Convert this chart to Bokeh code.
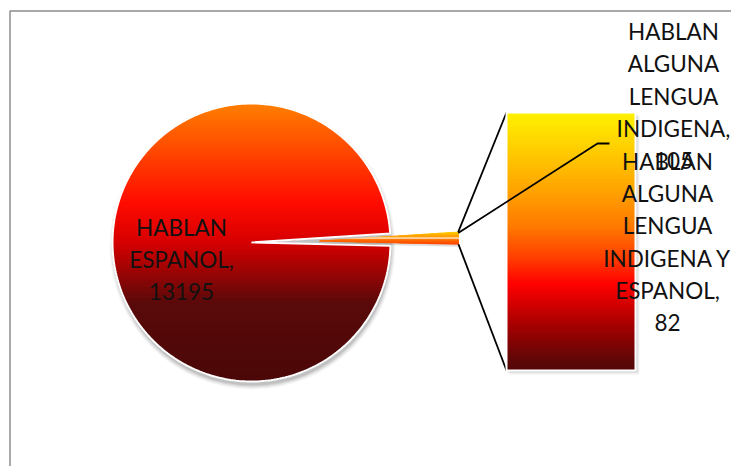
import numpy as np
import textwrap
from bokeh.plotting import figure
from bokeh.models import Range1d
from bokeh.embed import file_html
from bokeh.resources import INLINE
from bokeh.core.properties import value

# ---------------- data ----------------
categories = ["HABLAN ESPANOL",
              "HABLAN ALGUNA LENGUA INDIGENA",
              "HABLAN ALGUNA LENGUA INDIGENA Y ESPANOL"]
values = [13195, 105, 82]
pie_items = [0]          # shown in the main pie
bar_items = [1, 2]       # split out into the secondary bar (top to bottom)
wrap_widths = [8, 9, 10]

# ---------------- layout / style ----------------
W, H = 731, 466
CX, CY, R = 251, 242, 139
ROT_DEG = 1.2            # pie rotation (other-slice bisector angle)
EXPLODE = 68
BAR_L, BAR_R, BAR_T, BAR_B = 506, 635, 112, 370
FONT = "Lato"
FSIZE = 22.5
LINE_SP = 32.3
label_centers = [(181, 259), (673, 95.5), (667, 241.5)]
LEADER_KNEE = (597, 143)
LEADER_HOOK = 12

pie_stops = [(0.0, (255, 128, 0)), (0.18, (255, 70, 0)), (0.36, (255, 12, 0)),
             (0.50, (215, 0, 0)), (0.62, (150, 5, 5)), (0.72, (90, 10, 10)),
             (1.0, (75, 8, 8))]
bar_stops = [(0.0, (255, 242, 0)), (0.15, (255, 205, 0)), (0.30, (255, 165, 0)),
             (0.45, (255, 120, 0)), (0.57, (255, 60, 0)), (0.67, (255, 0, 0)),
             (0.81, (175, 0, 0)), (0.97, (92, 8, 8)), (1.0, (85, 8, 8))]
slice_stops = [(0.0, (255, 215, 0)), (0.45, (255, 150, 0)), (0.55, (255, 255, 255)),
               (0.65, (255, 120, 0)), (1.0, (255, 70, 0))]


def interp(stops, t):
    t = min(max(t, 0.0), 1.0)
    for (t0, c0), (t1, c1) in zip(stops[:-1], stops[1:]):
        if t <= t1:
            f = 0 if t1 == t0 else (t - t0) / (t1 - t0)
            c = [int(round(a + (b - a) * f)) for a, b in zip(c0, c1)]
            return "#%02x%02x%02x" % tuple(c)
    return "#%02x%02x%02x" % stops[-1][1]


def clip(xs, ys, lim, keep_ge):
    ox, oy = [], []
    n = len(xs)
    for i in range(n):
        x1, y1 = xs[i], ys[i]
        x2, y2 = xs[(i + 1) % n], ys[(i + 1) % n]
        in1 = (y1 >= lim) if keep_ge else (y1 <= lim)
        in2 = (y2 >= lim) if keep_ge else (y2 <= lim)
        if in1:
            ox.append(x1); oy.append(y1)
        if in1 != in2:
            f = (lim - y1) / (y2 - y1)
            ox.append(x1 + (x2 - x1) * f); oy.append(lim)
    return ox, oy


def gradient(xs, ys, top, bot, stops, n=90):
    edges = np.linspace(top, bot, n + 1)
    gx, gy, gc = [], [], []
    for i in range(n):
        a, b = edges[i] - 0.35, edges[i + 1] + 0.35
        px, py = clip(list(xs), list(ys), a, True)
        if len(px) < 3:
            continue
        px, py = clip(px, py, b, False)
        if len(px) < 3:
            continue
        t = ((edges[i] + edges[i + 1]) / 2 - top) / (bot - top)
        gx.append(px); gy.append(py); gc.append(interp(stops, t))
    return dict(xs=gx, ys=gy, color=gc)


def wedge(cx, cy, r, a0, a1, npts=300):
    th = np.linspace(a0, a1, npts)
    xs = np.concatenate([[cx], cx + r * np.cos(th)])
    ys = np.concatenate([[cy], cy - r * np.sin(th)])
    return xs, ys


p = figure(width=W, height=H, x_range=Range1d(0, W), y_range=Range1d(H, 0),
           output_backend="svg", toolbar_location=None, min_border=0,
           x_axis_location=None, y_axis_location=None)
p.grid.visible = False
p.outline_line_color = None
p.background_fill_color = "white"
p.border_fill_color = "white"

# chart frame
p.line([9.5, 9.5, W], [H, 10.5, 10.5], line_color="#8c8c8c", line_width=1.5)

total = float(sum(values))
other = float(sum(values[i] for i in bar_items))
other_ang = 2 * np.pi * other / total
rot = np.deg2rad(ROT_DEG)

# pie shadow
for dr, a in [(4, 0.04), (3, 0.05), (2, 0.07), (1, 0.09), (0, 0.12)]:
    p.circle([CX + 1], [CY + 4], radius=R + dr, fill_color="#404040", fill_alpha=a, line_color=None)

# main pie slice(s)
start = rot + other_ang / 2
for i in pie_items:
    ang = 2 * np.pi * values[i] / total
    xs, ys = wedge(CX, CY, R, start, start + ang)
    src = gradient(xs, ys, CY - R, CY + R, pie_stops, n=110)
    p.patches("xs", "ys", source=src, fill_color="color", line_color="color", line_width=1)
    p.patch(xs, ys, fill_color=None, line_color="white", line_width=2)
    start += ang

# exploded "other" slice
ex = CX + EXPLODE * np.cos(rot)
ey = CY - EXPLODE * np.sin(rot)
sxs, sys_ = wedge(ex, ey, R, rot - other_ang / 2, rot + other_ang / 2, npts=20)
p.patch(sxs, np.array(sys_) + 2.5, fill_color="#808080", fill_alpha=0.25, line_color=None)
ssrc = gradient(sxs, sys_, min(sys_), max(sys_), slice_stops, n=24)
p.patches("xs", "ys", source=ssrc, fill_color="color", line_color="color", line_width=0.5)

tip_top = (sxs[-1], sys_[-1])
tip_bot = (sxs[1], sys_[1])

# connector lines
p.line([tip_top[0], BAR_L], [tip_top[1], BAR_T], line_color="black", line_width=1.8)
p.line([tip_bot[0], BAR_L], [tip_bot[1], BAR_B], line_color="black", line_width=1.8)

# bar shadow
for d, a in [(4, 0.05), (3, 0.07), (2, 0.09), (1, 0.12)]:
    p.quad(left=[BAR_L + d - 1], right=[BAR_R + d], top=[BAR_T + d], bottom=[BAR_B + d],
           fill_color="#404040", fill_alpha=a, line_color=None)

# secondary bar segments (gradient spans the whole bar)
scale = (BAR_B - BAR_T) / other
y = BAR_T
for i in bar_items:
    y2 = y + values[i] * scale
    bx = [BAR_L, BAR_R, BAR_R, BAR_L]
    by = [y, y, y2, y2]
    nb = int(round((y2 - y) / 2.0)) + 1
    edges_src = gradient(bx, by, y, y2, [(0, (0, 0, 0)), (1, (0, 0, 0))], n=nb)
    cols = []
    for py in edges_src["ys"]:
        t = ((min(py) + max(py)) / 2 - BAR_T) / (BAR_B - BAR_T)
        cols.append(interp(bar_stops, t))
    edges_src["color"] = cols
    p.patches("xs", "ys", source=edges_src, fill_color="color", line_color="color", line_width=0.8)
    y = y2
p.quad(left=[BAR_L], right=[BAR_R], top=[BAR_T], bottom=[BAR_B],
       fill_color=None, line_color="white", line_width=2)

# leader line for first bar label
p.line([tip_top[0], LEADER_KNEE[0], LEADER_KNEE[0] + LEADER_HOOK],
       [tip_top[1] + 1, LEADER_KNEE[1], LEADER_KNEE[1]], line_color="black", line_width=1.8)

# labels
tx, ty, tt = [], [], []
for i, (lx, ly) in enumerate(label_centers):
    lines = textwrap.wrap(f"{categories[i]}, {values[i]}", wrap_widths[i])
    n = len(lines)
    for k, s in enumerate(lines):
        tx.append(lx); ty.append(ly + (k - (n - 1) / 2) * LINE_SP); tt.append(s)
p.text(tx, ty, text=tt, text_font=value(FONT), text_font_size=f"{FSIZE}px",
       text_align="center", text_baseline="middle", text_color="#111111")

open("out.html", "w").write(file_html(p, INLINE))
